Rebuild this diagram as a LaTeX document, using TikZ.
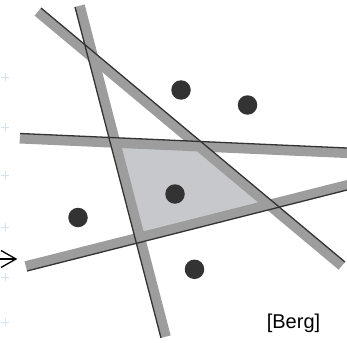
\documentclass[tikz,border=0pt]{standalone}
\usepackage{fontspec}
\setmainfont{Liberation Sans}
\definecolor{bandgray}{HTML}{9D9D9D}
\definecolor{fillgray}{HTML}{C6C8CC}
\definecolor{edgedark}{HTML}{333333}
\definecolor{crossblue}{HTML}{D2E4F2}
\begin{document}
\begin{tikzpicture}[x=1pt,y=-1pt,
  band/.style={bandgray,line width=10pt},
  edge/.style={edgedark,line width=1.3pt},
  pt/.style={circle,fill=edgedark,inner sep=0pt,minimum size=19.5pt},
  tick/.style={crossblue,line width=0.8pt}]
\useasboundingbox (0,0) rectangle (347,342);
% boundary (dark) lines
\coordinate (a1) at (41,8);     \coordinate (b1) at (345,262);
\coordinate (a2) at (75,7);     \coordinate (b2) at (161,338);
\coordinate (a3) at (20,133.5); \coordinate (b3) at (347,148);
\coordinate (a4) at (27,271);   \coordinate (b4) at (347,190);
% band centre lines (offset 5 toward feasible side)
\coordinate (c1) at (37.8,11.8);  \coordinate (d1) at (341.8,265.8);
\coordinate (c2) at (79.8,5.7);   \coordinate (d2) at (165.8,336.7);
\coordinate (c3) at (19.8,138.5); \coordinate (d3) at (350,153.2);
\coordinate (c4) at (25.8,266.2); \coordinate (d4) at (350,184.4);
% feasible region corners
\coordinate (A) at (108.9,137.4);
\coordinate (B) at (200.8,141.5);
\coordinate (C) at (279.3,207.1);
\coordinate (D) at (136.4,243.3);
\fill[fillgray] (A) -- (B) -- (C) -- (D) -- cycle;
\draw[band] (c1) -- (d1);
\draw[band] (c2) -- (d2);
\draw[band] (c3) -- (d3);
\draw[band] (c4) -- (d4);
\draw[edge] (a1) -- (b1);
\draw[edge] (a2) -- (b2);
\draw[edge] (a3) -- (b3);
\draw[edge] (a4) -- (b4);
% points
\node[pt] (p1) at (181,90) {};
\node[pt] (p2) at (247.5,105) {};
\node[pt] (p3) at (175,194) {};
\node[pt] (p4) at (78,217.5) {};
\node[pt] (p5) at (194.5,269.3) {};
% label
\node[font=\fontsize{20}{24}\selectfont,inner sep=0pt] (lbl) at (293.5,323) {[Berg]};
% arrow fragment on the left
\coordinate (arrL) at (0,259);
\coordinate (arrT) at (16,259);
\draw[black,line width=1.3pt] (arrL) -- (arrT);
\draw[black,line width=1.3pt,line join=miter] (1,250.5) -- (arrT) -- (1,267.5);
% faint crosses at the left border
\foreach \yy in {77,127,175,227,277,322}{
  \draw[tick] (1,\yy) -- (9,\yy);
  \draw[tick] (5,\yy-4) -- (5,\yy+4);
}
\end{tikzpicture}
\end{document}
